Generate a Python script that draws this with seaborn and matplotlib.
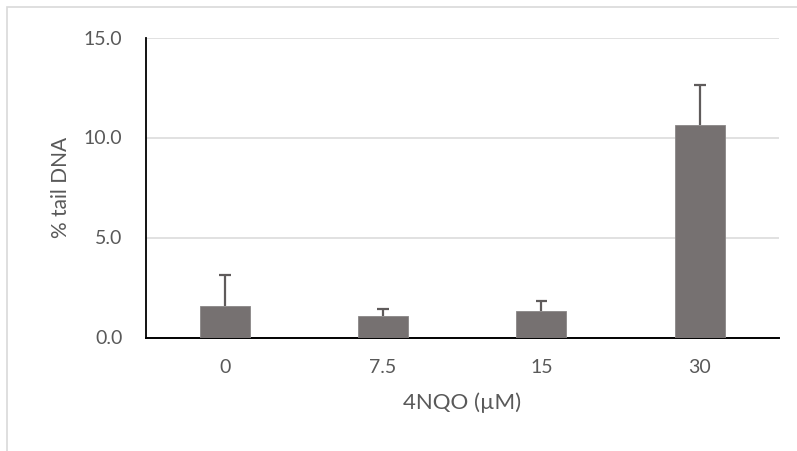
import numpy as np
import pandas as pd
import matplotlib
matplotlib.use('Agg')
import matplotlib.pyplot as plt
import seaborn as sns
from matplotlib.patches import Rectangle

# data
doses = ['0', '7.5', '15', '30']
tail_dna = [1.57, 1.08, 1.35, 10.65]
tail_err = [1.58, 0.35, 0.48, 2.0]

df = pd.DataFrame({'dose': doses, 'tail': tail_dna, 'err': tail_err})

sns.set_style('white')
plt.rcParams['font.family'] = ['Lato', 'DejaVu Sans']
text_col = '#595959'

fig = plt.figure(figsize=(7.97, 4.51), dpi=100)
# chart frame (runs off the right / bottom edge like the source)
fig.patches.append(Rectangle((6.5 / 797, -0.1), 1.2, 1.1 - 7.5 / 451, transform=fig.transFigure,
                             fill=False, edgecolor='#d9d9d9', linewidth=1.2))

ax = fig.add_axes([145.5 / 797, (451 - 337.5) / 451, (779 - 145.5) / 797, 300 / 451])

sns.barplot(data=df, x='dose', y='tail', color='#767171', width=0.315,
            saturation=1, errorbar=None, ax=ax, zorder=3)
for p in ax.patches:
    p.set_edgecolor('#8a8686')
    p.set_linewidth(0.6)

# upward-only error bars
xs = np.arange(len(doses))
tops = df['tail'] + df['err']
ax.vlines(xs, df['tail'], tops, color='#5f5b5b', linewidth=1.6, zorder=4)
ax.hlines(tops, xs - 0.037, xs + 0.037, color='#5f5b5b', linewidth=1.6, zorder=4)

ax.set_ylim(0, 15)
ax.set_xlim(-0.5, 3.5)
ax.set_yticks([0, 5, 10, 15])
ax.set_yticklabels(['0.0', '5.0', '10.0', '15.0'])
ax.yaxis.grid(True, color='#d9d9d9', linewidth=1.1, zorder=0)
ax.set_axisbelow(True)

for s in ['top', 'right']:
    ax.spines[s].set_visible(False)
ax.spines['left'].set_color('black')
ax.spines['left'].set_linewidth(1.3)
ax.spines['bottom'].set_color('black')
ax.spines['bottom'].set_linewidth(1.4)

ax.tick_params(axis='both', length=0, labelsize=14, labelcolor=text_col)
ax.tick_params(axis='y', pad=16.5)
ax.tick_params(axis='x', pad=15.5)

ax.set_xlabel('4NQO (µM)', fontsize=16, color=text_col, labelpad=12)
ax.set_ylabel('% tail DNA', fontsize=15, color=text_col, labelpad=9.5)

fig.savefig('out.png', dpi=100)
